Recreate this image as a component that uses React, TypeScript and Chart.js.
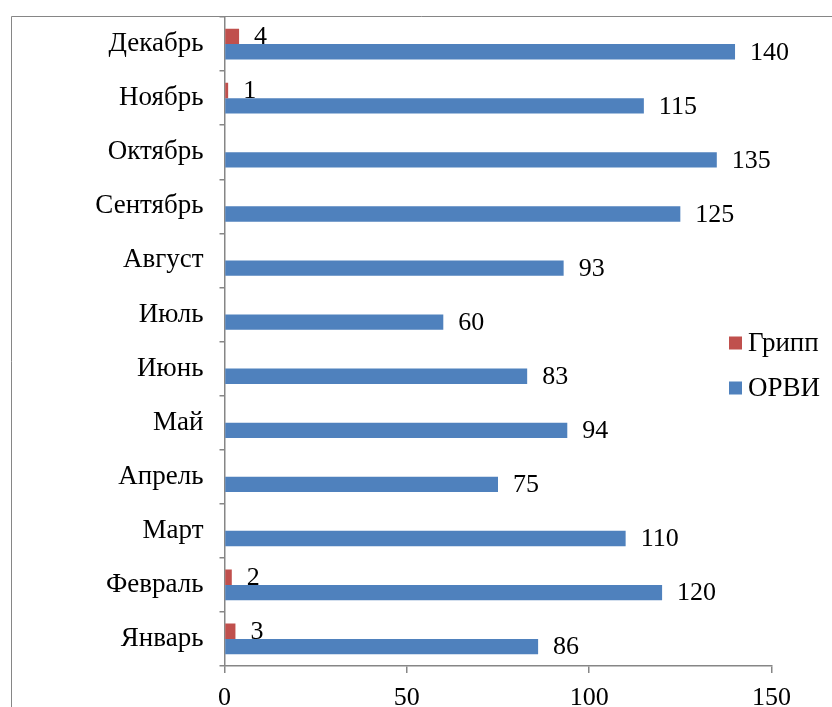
import React, { useEffect, useRef } from "react";
import { Chart, registerables } from "chart.js";

Chart.register(...registerables);

const months = ["Январь", "Февраль", "Март", "Апрель", "Май", "Июнь", "Июль", "Август", "Сентябрь", "Октябрь", "Ноябрь", "Декабрь"];
const grippValues = [3, 2, 0, 0, 0, 0, 0, 0, 0, 0, 1, 4];
const orviValues = [86, 120, 110, 75, 94, 83, 60, 93, 125, 135, 115, 140];
const seriesNames = ["Грипп", "ОРВИ"];
const seriesColors = ["#C0504D", "#4F81BD"];
const xTicks = [0, 50, 100, 150];

const FONT = "'Liberation Serif', 'Times New Roman', serif";
const NUM_SIZE = 26;
const TEXT_SIZE = 27;
const AXIS_COLOR = "#868686";

const labelPlugin = {
  id: "valueLabels",
  afterDatasetsDraw(chart: any) {
    const ctx = chart.ctx;
    ctx.save();
    ctx.font = `${NUM_SIZE}px ${FONT}`;
    ctx.fillStyle = "#000";
    ctx.textAlign = "left";
    ctx.textBaseline = "middle";
    chart.data.datasets.forEach((ds: any, di: number) => {
      const meta = chart.getDatasetMeta(di);
      meta.data.forEach((el: any, i: number) => {
        const v = ds.data[i];
        if (!v) return;
        ctx.fillText(String(v), el.x + 15, el.y + 1);
      });
    });
    ctx.restore();
  },
};

const framePlugin = {
  id: "frameAndLegend",
  afterDraw(chart: any) {
    const ctx = chart.ctx;
    ctx.save();
    ctx.strokeStyle = AXIS_COLOR;
    ctx.lineWidth = 1;
    ctx.beginPath();
    ctx.moveTo(11.5, chart.height);
    ctx.lineTo(11.5, 16.5);
    ctx.lineTo(chart.width, 16.5);
    ctx.stroke();
    // legend
    ctx.font = `${TEXT_SIZE}px ${FONT}`;
    ctx.textAlign = "left";
    ctx.textBaseline = "middle";
    const lx = 729;
    const ly = [343, 388];
    seriesNames.forEach((name, i) => {
      ctx.fillStyle = seriesColors[i];
      ctx.fillRect(lx, ly[i] - 6.5, 13, 13);
      ctx.fillStyle = "#000";
      ctx.fillText(name, lx + 19, ly[i] + 1);
    });
    ctx.restore();
  },
};

export default function App() {
  const ref = useRef<HTMLCanvasElement>(null);
  useEffect(() => {
    if (!ref.current) return;
    const chart = new Chart(ref.current, {
      type: "bar",
      data: {
        labels: months,
        datasets: [
          { label: seriesNames[0], data: grippValues, backgroundColor: seriesColors[0], borderWidth: 0, categoryPercentage: 0.57, barPercentage: 1 },
          { label: seriesNames[1], data: orviValues, backgroundColor: seriesColors[1], borderWidth: 0, categoryPercentage: 0.57, barPercentage: 1 },
        ],
      },
      options: {
        indexAxis: "y",
        responsive: false,
        animation: false,
        layout: { padding: { top: 17, right: 60.5, left: 0, bottom: 0 } },
        plugins: { legend: { display: false }, tooltip: { enabled: false } },
        scales: {
          x: {
            min: 0,
            max: 150,
            afterBuildTicks: (s: any) => {
              s.ticks = xTicks.map((v) => ({ value: v }));
            },
            afterFit: (s: any) => {
              s.height = 41;
              s.paddingLeft = 0;
              s.paddingRight = 0;
            },
            grid: { display: true, drawOnChartArea: false, drawTicks: true, tickLength: 7, color: AXIS_COLOR, lineWidth: 1.5 },
            border: { display: true, color: AXIS_COLOR, width: 1.5 },
            ticks: { color: "#000", font: { family: FONT, size: NUM_SIZE }, padding: 10, maxRotation: 0 },
          },
          y: {
            reverse: true,
            afterFit: (s: any) => {
              s.width = 224.5;
              s.paddingTop = 0;
              s.paddingBottom = 0;
            },
            grid: { display: true, drawOnChartArea: false, drawTicks: true, tickLength: 5, color: AXIS_COLOR, lineWidth: 1.5, offset: true },
            border: { display: true, color: AXIS_COLOR, width: 1.5 },
            ticks: { color: "#000", font: { family: FONT, size: TEXT_SIZE }, padding: 16, autoSkip: false },
          },
        },
      },
      plugins: [labelPlugin, framePlugin],
    });
    return () => chart.destroy();
  }, []);
  return (
    <div style={{ position: "fixed", left: 0, top: 0, width: 832, height: 707, overflow: "hidden", background: "#fff" }}>
      <canvas ref={ref} width={832} height={707} style={{ display: "block" }} />
    </div>
  );
}
